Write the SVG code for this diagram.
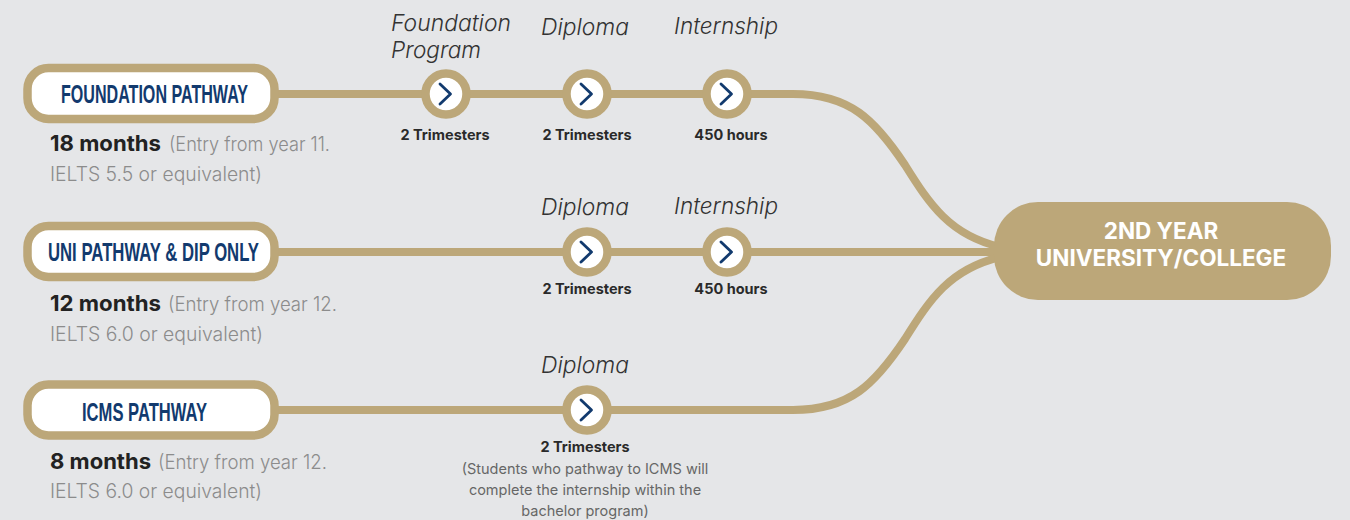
<svg xmlns="http://www.w3.org/2000/svg" width="1350" height="520" viewBox="0 0 1350 520">
<style>
.ln{fill:none;stroke:#bca779;stroke-width:8}
.pill{fill:#fff;stroke:#bca779;stroke-width:8.500}
.dot{fill:#fff;stroke:#bca779;stroke-width:8.500}
.chev{fill:none;stroke:#123a6e;stroke-width:2.800;stroke-linecap:round;stroke-linejoin:round}
.name{font-family:"Liberation Sans",sans-serif;font-weight:700;font-size:25px;fill:#123a6e;text-anchor:middle}
.d{font-family:"Inter","Noto Sans",sans-serif;font-size:19.500px;fill:#8c8c8c;font-weight:300}
.b{font-family:"Inter","Noto Sans",sans-serif;font-weight:700;fill:#222;font-size:22px}
.it{font-family:"Inter","Noto Sans",sans-serif;font-style:italic;font-weight:300;font-size:22.500px;fill:#333}
.s{font-family:"Inter","Noto Sans",sans-serif;font-weight:700;font-size:14.500px;fill:#2a2a2a;text-anchor:middle}
.n{font-family:"Inter","Noto Sans",sans-serif;font-size:14.500px;fill:#666;text-anchor:middle}
.end{font-family:"Inter","Noto Sans",sans-serif;font-weight:700;font-size:22.500px;fill:#fff;text-anchor:middle}
</style>
<defs>
<g id="step"><circle r="20.500" class="dot"/><path d="M-6-10 4.500 0-6 10" class="chev"/></g>
</defs>
<rect width="1350" height="520" fill="#e5e6e8"/>
<g id="connectors">
<path class="ln" d="M277 94H793C850 94 875 120 905 165C930 205 950 235 1000 247"/>
<path class="ln" d="M277 252H1000"/>
<path class="ln" d="M277 410H793C850 410 875 384 905 339C930 299 950 269 1000 257"/>
</g>
<g id="node-foundation">
<rect x="27.500" y="68" width="247" height="51" rx="21" class="pill"/>
<text class="name" x="154.500" y="103" textLength="187" lengthAdjust="spacingAndGlyphs">FOUNDATION PATHWAY</text>
<text class="b" x="50" y="151" textLength="111" lengthAdjust="spacingAndGlyphs">18 months</text>
<text class="d" x="169" y="151" textLength="161" lengthAdjust="spacingAndGlyphs">(Entry from year 11.</text>
<text class="d" x="50" y="180.500" textLength="212" lengthAdjust="spacingAndGlyphs">IELTS 5.5 or equivalent)</text>
</g>
<g id="node-uni">
<rect x="27.500" y="226" width="247" height="51" rx="21" class="pill"/>
<text class="name" x="153.500" y="261" textLength="211" lengthAdjust="spacingAndGlyphs">UNI PATHWAY &amp; DIP ONLY</text>
<text class="b" x="50" y="311" textLength="111" lengthAdjust="spacingAndGlyphs">12 months</text>
<text class="d" x="168" y="311" textLength="169" lengthAdjust="spacingAndGlyphs">(Entry from year 12.</text>
<text class="d" x="50" y="341" textLength="213" lengthAdjust="spacingAndGlyphs">IELTS 6.0 or equivalent)</text>
</g>
<g id="node-icms">
<rect x="27.500" y="384.500" width="247" height="51" rx="21" class="pill"/>
<text class="name" x="144.500" y="421" textLength="125" lengthAdjust="spacingAndGlyphs">ICMS PATHWAY</text>
<text class="b" x="50" y="469" textLength="101" lengthAdjust="spacingAndGlyphs">8 months</text>
<text class="d" x="158" y="469" textLength="169" lengthAdjust="spacingAndGlyphs">(Entry from year 12.</text>
<text class="d" x="50" y="498" textLength="212" lengthAdjust="spacingAndGlyphs">IELTS 6.0 or equivalent)</text>
</g>
<g id="step-1-1"><use href="#step" x="446" y="94"/>
<text class="it" x="391" y="31" textLength="120" lengthAdjust="spacingAndGlyphs">Foundation</text><text class="it" x="391" y="58" textLength="90" lengthAdjust="spacingAndGlyphs">Program</text>
<text class="s" x="445" y="140">2 Trimesters</text></g>
<g id="step-1-2"><use href="#step" x="587" y="94"/>
<text class="it" x="541" y="35" textLength="88" lengthAdjust="spacingAndGlyphs">Diploma</text>
<text class="s" x="587" y="140">2 Trimesters</text></g>
<g id="step-1-3"><use href="#step" x="727" y="94"/>
<text class="it" x="674" y="34" textLength="104" lengthAdjust="spacingAndGlyphs">Internship</text>
<text class="s" x="731" y="140">450 hours</text></g>
<g id="step-2-1"><use href="#step" x="587" y="252"/>
<text class="it" x="541" y="215" textLength="88" lengthAdjust="spacingAndGlyphs">Diploma</text>
<text class="s" x="587" y="294">2 Trimesters</text></g>
<g id="step-2-2"><use href="#step" x="727" y="252"/>
<text class="it" x="674" y="214" textLength="104" lengthAdjust="spacingAndGlyphs">Internship</text>
<text class="s" x="731" y="294">450 hours</text></g>
<g id="step-3-1"><use href="#step" x="587" y="410"/>
<text class="it" x="541" y="373" textLength="88" lengthAdjust="spacingAndGlyphs">Diploma</text>
<text class="s" x="585" y="452">2 Trimesters</text>
<text class="n" x="585" y="474">(Students who pathway to ICMS will</text>
<text class="n" x="585" y="495">complete the internship within the</text>
<text class="n" x="585" y="516">bachelor program)</text></g>
<g id="node-end">
<rect x="994" y="202" width="337" height="98" rx="44" fill="#bca779"/>
<text class="end" x="1161" y="239">2ND YEAR</text>
<text class="end" x="1161" y="266">UNIVERSITY/COLLEGE</text>
</g>
</svg>
